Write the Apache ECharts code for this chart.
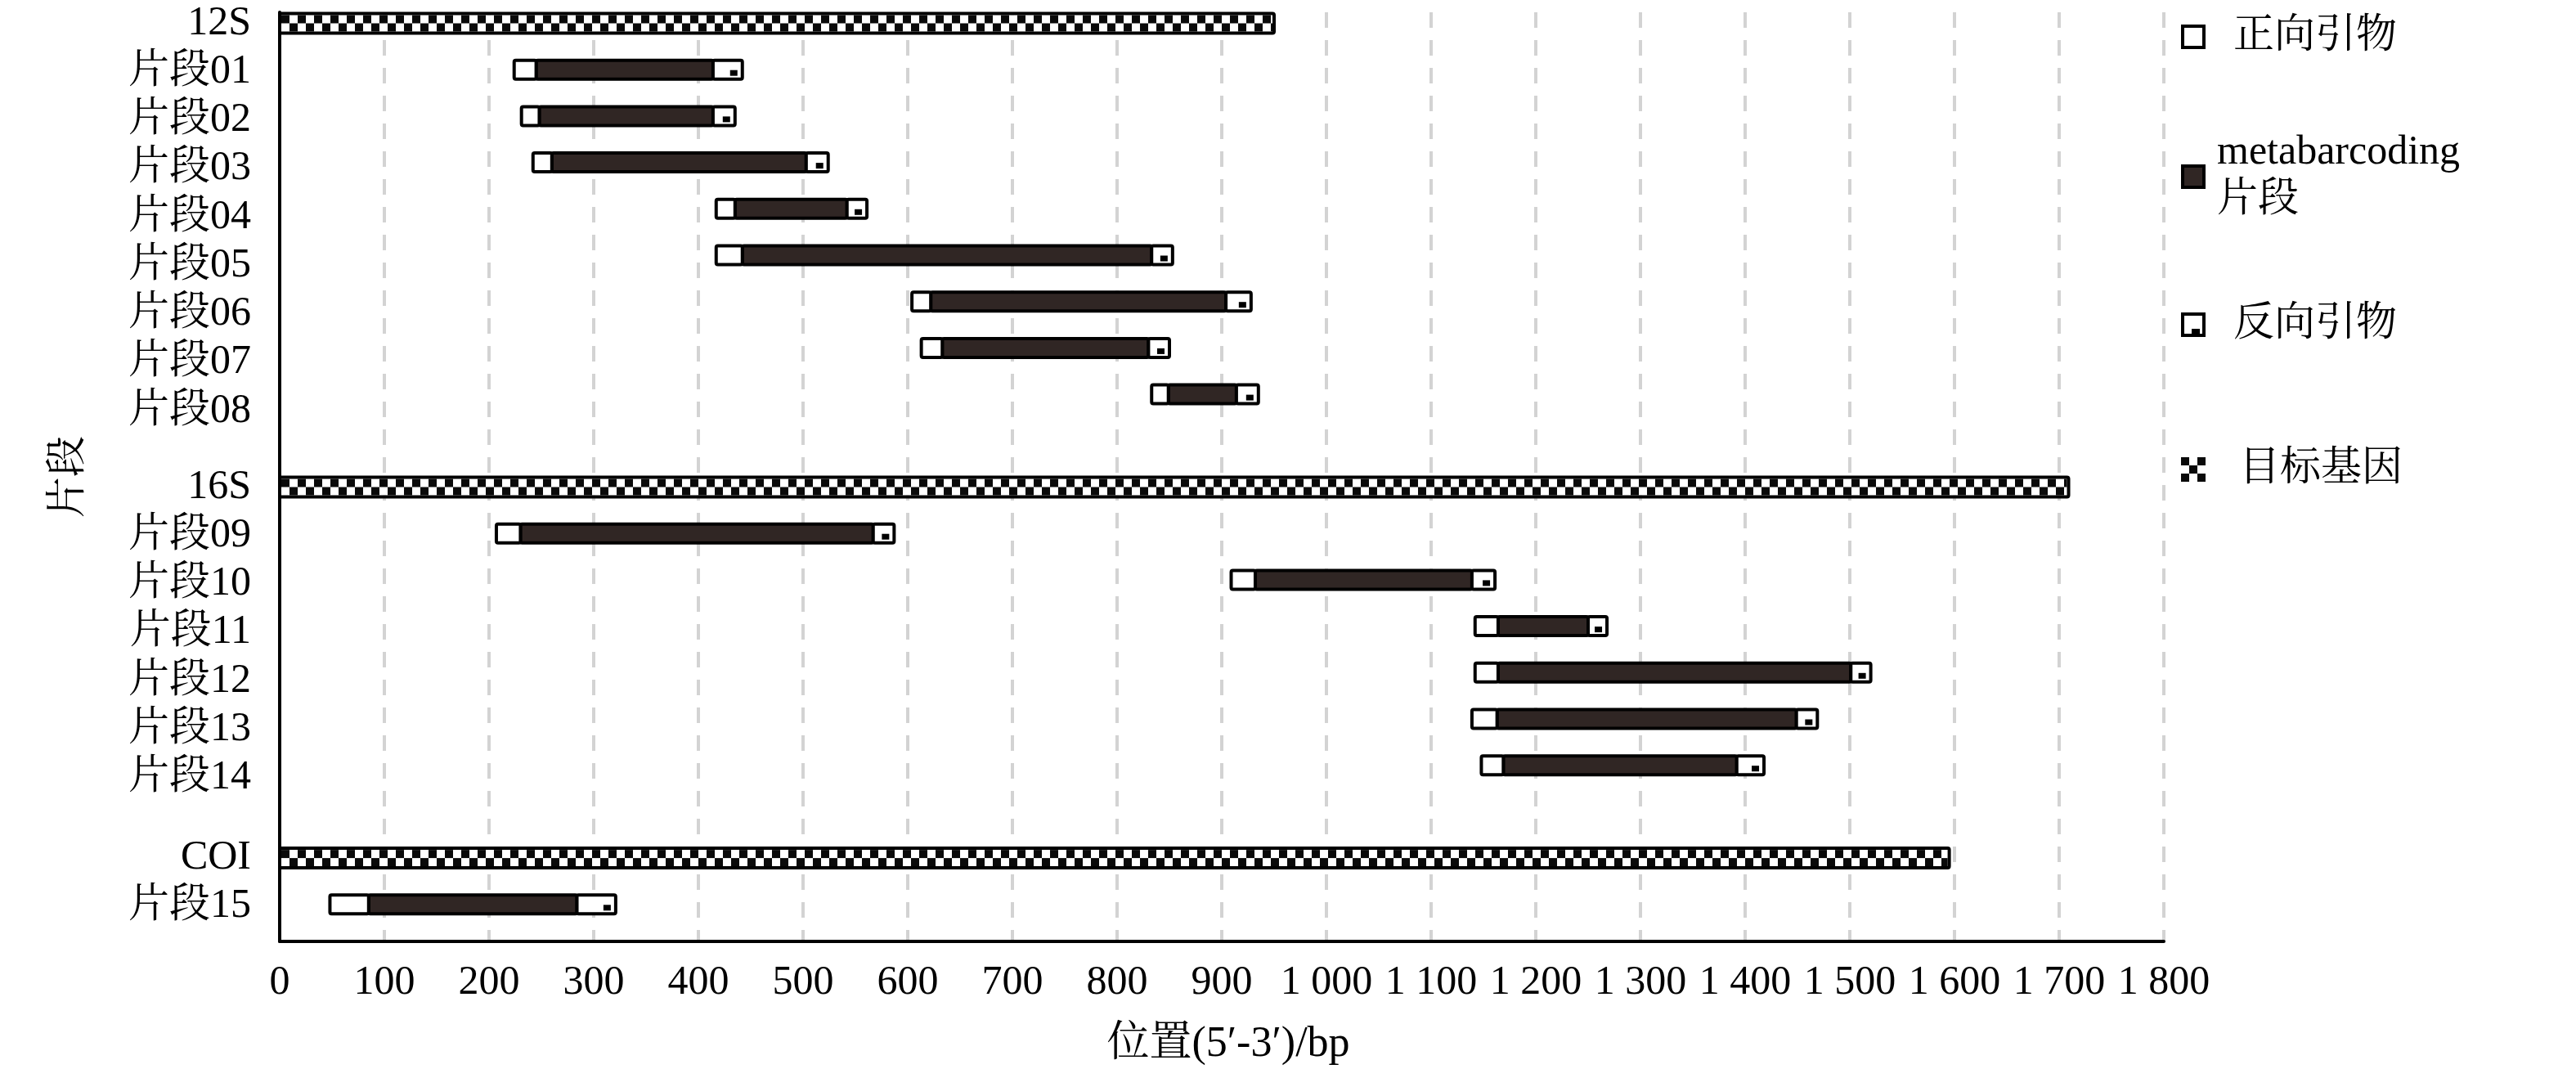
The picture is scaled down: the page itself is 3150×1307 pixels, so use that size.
<!DOCTYPE html>
<html>
<head>
<meta charset="utf-8">
<script src="https://cdn.jsdelivr.net/npm/echarts@6/dist/echarts.min.js"></script>
<style>
html,body{margin:0;padding:0;background:#fff;}
#chart{width:3150px;height:1307px;}
</style>
</head>
<body>
<div id="chart"></div>
<script>
// ---------- data ----------
const categories = ['12S','片段01','片段02','片段03','片段04','片段05','片段06','片段07','片段08','',
                    '16S','片段09','片段10','片段11','片段12','片段13','片段14','',
                    'COI','片段15'];
const geneNames   = ['12S','16S','COI'];
const geneLengths = [950, 1709, 1595];

const fragmentNames = ['片段01','片段02','片段03','片段04','片段05','片段06','片段07','片段08',
                       '片段09','片段10','片段11','片段12','片段13','片段14','片段15'];
const fwdStart = [224, 231, 242, 417, 417, 604, 613, 833, 207,  909, 1142, 1142, 1139, 1148,  48];
const fwdEnd   = [245, 248, 260, 435, 442, 622, 633, 849, 230,  932, 1164, 1164, 1163, 1169,  85];
const revStart = [414, 414, 503, 542, 833, 904, 830, 914, 567, 1139, 1250, 1501, 1449, 1392, 284];
const revEnd   = [442, 435, 524, 561, 853, 928, 850, 935, 587, 1161, 1268, 1520, 1469, 1418, 321];

const xTickLabels = ['0','100','200','300','400','500','600','700','800','900',
                     '1 000','1 100','1 200','1 300','1 400','1 500','1 600','1 700','1 800'];

const seriesNames = ['正向引物','metabarcoding片段','反向引物','目标基因'];

// ---------- styling ----------
const FONT = "'Liberation Serif','Times New Roman','Noto Serif CJK SC','Noto Sans CJK SC',serif";
const DARK = '#302624';
const BAR_H = 23;
const GENE_H = 24;
const LABEL_STRETCH = 1.045; // row labels are set slightly looser than the bars in the original

const rowOf = name => categories.indexOf(name);

// label positions: within each gene group, labels spread a little wider than bar rows
const labelValues = [];
const labelText = {};
(function () {
  let groupStart = 0;
  categories.forEach((c, i) => {
    if (c === '') return;
    if (geneNames.indexOf(c) >= 0) groupStart = i;
    const v = +(groupStart + (i - groupStart) * LABEL_STRETCH).toFixed(4);
    labelValues.push(v);
    labelText[v] = c;
  });
})();

function makeIcon(draw) {
  const c = document.createElement('canvas');
  c.width = 30; c.height = 30;
  const g = c.getContext('2d');
  draw(g);
  return 'image://' + c.toDataURL();
}
const iconFwd = makeIcon(g => { g.fillStyle = '#000'; g.fillRect(0,0,30,30); g.fillStyle = '#fff'; g.fillRect(4,4,22,22); });
const iconMeta = makeIcon(g => { g.fillStyle = '#000'; g.fillRect(0,0,30,30); g.fillStyle = DARK; g.fillRect(4,4,22,22); });
const iconRev = makeIcon(g => { g.fillStyle = '#000'; g.fillRect(0,0,30,30); g.fillStyle = '#fff'; g.fillRect(4,4,22,22);
                                g.fillStyle = '#000'; g.fillRect(13,20,10,6); });
const iconGene = makeIcon(g => { g.fillStyle = '#fff'; g.fillRect(0,0,30,30); g.fillStyle = '#0a0a0a';
                                 for (let i = 0; i < 3; i++) for (let j = 0; j < 3; j++) if ((i + j) % 2 === 0) g.fillRect(i*10, j*10, 10, 10); });

function segRender(fill, withDot) {
  return function (params, api) {
    const s = api.value(0), e = api.value(1), r = api.value(2);
    const p0 = api.coord([s, r]), p1 = api.coord([e, r]);
    const x = p0[0], w = p1[0] - p0[0], y = p0[1] - BAR_H / 2;
    const children = [{
      type: 'rect',
      shape: { x: x, y: y, width: w, height: BAR_H, r: 2 },
      style: { fill: fill, stroke: '#000', lineWidth: 4 }
    }];
    if (withDot) {
      children.push({
        type: 'rect',
        shape: { x: x + w - 2 - 4 - 9, y: y + BAR_H - 2 - 2 - 7, width: 9, height: 7 },
        style: { fill: '#000' }
      });
    }
    return { type: 'group', children: children };
  };
}

function geneRender(params, api) {
  const s = api.value(0), e = api.value(1), r = api.value(2);
  const p0 = api.coord([s, r]), p1 = api.coord([e, r]);
  const x = p0[0], w = p1[0] - p0[0], y = p0[1] - GENE_H / 2;
  const ix = x + 2, iy = y + 2, iw = w - 4, ih = GENE_H - 4;
  const cell = ih / 2;
  const children = [{ type: 'rect', shape: { x: ix, y: iy, width: iw, height: ih }, style: { fill: '#fff' } }];
  const n = Math.ceil(iw / cell);
  for (let i = 0; i < n; i++) {
    const cx = ix + i * cell;
    const cw = Math.min(cell, ix + iw - cx);
    const row = i % 2;
    children.push({ type: 'rect', shape: { x: cx, y: iy + row * cell, width: cw, height: cell }, style: { fill: '#0a0a0a' } });
  }
  children.push({ type: 'rect', shape: { x: x, y: y, width: w, height: GENE_H, r: 2 },
                  style: { fill: 'none', stroke: '#000', lineWidth: 4 } });
  return { type: 'group', children: children };
}

const geneData = geneNames.map((n, i) => [0, geneLengths[i], rowOf(n)]);
const fwdData  = fragmentNames.map((n, i) => [fwdStart[i], fwdEnd[i], rowOf(n)]);
const metaData = fragmentNames.map((n, i) => [fwdEnd[i], revStart[i], rowOf(n)]);
const revData  = fragmentNames.map((n, i) => [revStart[i], revEnd[i], rowOf(n)]);

const legendSpec = [
  { name: seriesNames[0], icon: iconFwd,  top: 11,  pad: 29 },
  { name: seriesNames[1], icon: iconMeta, top: 153, pad: 9 },
  { name: seriesNames[2], icon: iconRev,  top: 363, pad: 29 },
  { name: seriesNames[3], icon: iconGene, top: 540, pad: 36 }
];

const chart = echarts.init(document.getElementById('chart'), null, { renderer: 'canvas' });
chart.setOption({
  backgroundColor: '#fff',
  animation: false,
  grid: { left: 342, right: 504, top: 15, bottom: 156, containLabel: false, outerBoundsMode: 'none' },
  xAxis: {
    type: 'value', min: 0, max: 1800, interval: 100,
    axisLine: { show: true, onZero: false, lineStyle: { color: '#000', width: 4 } },
    axisTick: { show: false },
    axisLabel: { margin: 26, fontSize: 50, fontFamily: FONT, color: '#000',
                 formatter: v => xTickLabels[Math.round(v / 100)] },
    splitLine: { show: true, lineStyle: { color: '#d3d3d3', width: 4, type: [19, 15] } },
    name: '位置(5′-3′)/bp', nameLocation: 'middle', nameGap: 100,
    nameTextStyle: { fontSize: 52, fontFamily: FONT, color: '#000', padding: [0, 0, 0, 16] }
  },
  yAxis: {
    type: 'value', inverse: true, min: -0.238, max: 19.797,
    axisLine: { show: true, onZero: false, lineStyle: { color: '#000', width: 4 } },
    axisTick: { show: false },
    splitLine: { show: false },
    axisLabel: { customValues: labelValues, formatter: v => labelText[+(+v).toFixed(4)] || '',
                 margin: 35, fontSize: 50, fontFamily: FONT, color: '#000' },
    name: '片段', nameLocation: 'middle', nameRotate: 90, nameGap: 232,
    nameTextStyle: { fontSize: 50, fontFamily: FONT, color: '#000' }
  },
  legend: legendSpec.map(l => ({
    orient: 'vertical', left: 2662, top: l.top, itemWidth: 30, itemHeight: 30,
    selectedMode: false,
    data: [{ name: l.name, icon: l.icon }],
    formatter: n => n === 'metabarcoding片段' ? 'metabarcoding\n片段' : n,
    textStyle: { fontSize: 50, fontFamily: FONT, color: '#000', lineHeight: 58, padding: [0, 0, 0, l.pad] }
  })),
  series: [
    { name: seriesNames[3], type: 'custom', renderItem: geneRender, data: geneData,
      encode: { x: [0, 1], y: 2 }, itemStyle: { color: '#000' }, z: 3 },
    { name: seriesNames[1], type: 'custom', renderItem: segRender(DARK, false), data: metaData,
      encode: { x: [0, 1], y: 2 }, itemStyle: { color: DARK }, z: 4 },
    { name: seriesNames[0], type: 'custom', renderItem: segRender('#fff', false), data: fwdData,
      encode: { x: [0, 1], y: 2 }, itemStyle: { color: '#fff' }, z: 5 },
    { name: seriesNames[2], type: 'custom', renderItem: segRender('#fff', true), data: revData,
      encode: { x: [0, 1], y: 2 }, itemStyle: { color: '#fff' }, z: 5 }
  ]
});
</script>
</body>
</html>
